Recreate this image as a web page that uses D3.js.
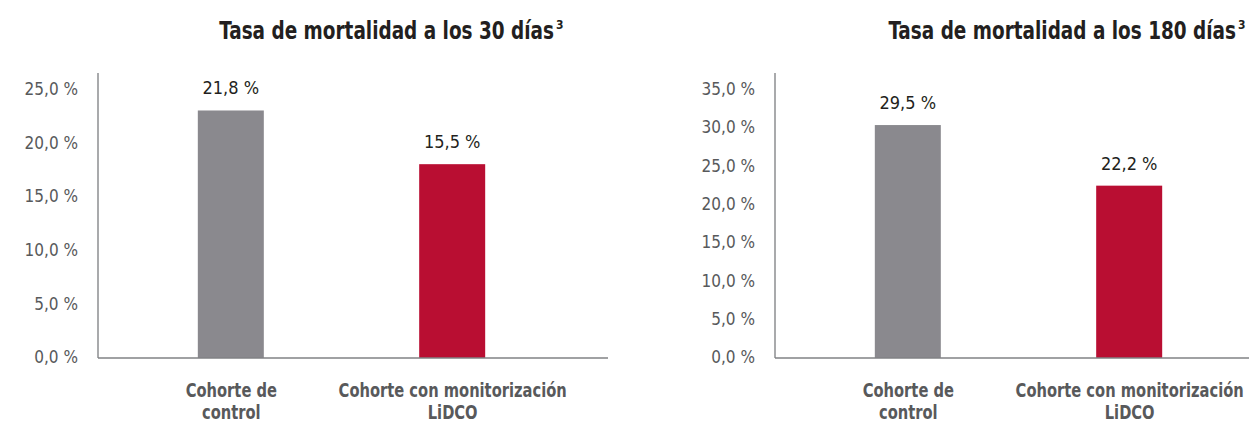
<!DOCTYPE html>
<html>
<head>
<meta charset="utf-8">
<script src="https://cdn.jsdelivr.net/npm/d3@7"></script>
<style>
  body { margin: 0; background: #fff; }
  svg text { font-family: 'Liberation Sans Narrow', 'DejaVu Sans Condensed', 'Roboto', sans-serif; }
</style>
</head>
<body>
<div id="chart"></div>
<script>
// datos
const categorias = ["Cohorte de|control", "Cohorte con monitorización|LiDCO"];
const colores = ["#8a898e", "#b90e32"];

const titulo30 = "Tasa de mortalidad a los 30 días";
const valores30 = [23.0, 18.0];           // altura de barra tal como se ve
const etiquetas30 = ["21,8 %", "15,5 %"];
const ticks30 = [0, 5, 10, 15, 20, 25];

const titulo180 = "Tasa de mortalidad a los 180 días";
const valores180 = [30.3, 22.4];
const etiquetas180 = ["29,5 %", "22,2 %"];
const ticks180 = [0, 5, 10, 15, 20, 25, 30, 35];

const svg = d3.select("#chart").append("svg")
  .attr("width", 1249)
  .attr("height", 423);

const fmt = d => d.toFixed(1).replace(".", ",") + " %";

function panel(cfg) {
  const g = svg.append("g");

  let x = d3.scalePoint().domain(categorias).range([cfg.left, cfg.left + 487]).padding(0.6);
  let y = d3.scaleLinear().domain([0, cfg.max]).range([357.5, 89]);

  // titulo (fuente condensada -> escala horizontal)
  const gt = g.append("g")
    .attr("transform", `translate(${cfg.titleEnd - 9},39) scale(0.82,1)`);
  gt.append("text")
    .attr("text-anchor", "end")
    .attr("font-size", 25)
    .attr("font-weight", "bold")
    .attr("fill", "#231f20")
    .text(cfg.titulo);
  g.append("text")
    .attr("x", cfg.titleEnd - 7)
    .attr("y", 29)
    .attr("font-size", 12)
    .attr("font-weight", "bold")
    .attr("fill", "#231f20")
    .text("3");

  // eje y
  const ay = g.append("g")
    .attr("transform", `translate(${cfg.left},0)`)
    .call(d3.axisLeft(y).tickValues(cfg.ticks).tickFormat(fmt).tickSize(0).tickPadding(20));
  ay.select(".domain").remove();
  ay.selectAll("text")
    .attr("font-size", 17)
    .attr("fill", "#58595b")
    .style("font-family", null);

  g.append("line")
    .attr("x1", cfg.left).attr("x2", cfg.left)
    .attr("y1", 73).attr("y2", 358)
    .attr("stroke", "#8c8e91").attr("stroke-width", 1.5);

  // barras
  g.selectAll("rect.bar")
    .data(cfg.valores)
    .enter().append("rect")
    .attr("class", "bar")
    .attr("x", (d, i) => x(categorias[i]) - 33)
    .attr("width", 66)
    .attr("y", d => y(d))
    .attr("height", d => y(0) - y(d) + 0.5)
    .attr("fill", (d, i) => colores[i]);

  // etiquetas de valor
  g.selectAll("text.val")
    .data(cfg.valores)
    .enter().append("text")
    .attr("class", "val")
    .attr("x", (d, i) => x(categorias[i]))
    .attr("y", d => y(d) - 16)
    .attr("text-anchor", "middle")
    .attr("font-size", 18)
    .attr("fill", "#231f20")
    .text((d, i) => cfg.etiquetas[i]);

  // eje x
  g.append("line")
    .attr("x1", cfg.left).attr("x2", cfg.axisEnd)
    .attr("y1", 358).attr("y2", 358)
    .attr("stroke", "#808285").attr("stroke-width", 1.5);

  const ax = g.append("g")
    .attr("transform", "translate(0,358)")
    .call(d3.axisBottom(x).tickSize(0).tickFormat(""));
  ax.select(".domain").remove();

  ax.selectAll(".tick").each(function (d) {
    const tick = d3.select(this);
    d.split("|").forEach((l, i) => {
      tick.append("g")
        .attr("transform", `translate(0,${39 + i * 22}) scale(0.86,1)`)
        .append("text")
        .attr("text-anchor", "middle")
        .attr("font-size", 19)
        .attr("font-weight", "bold")
        .attr("fill", "#58595b")
        .text(l);
    });
  });
}

panel({ left: 98, axisEnd: 608, max: 25, ticks: ticks30, valores: valores30, etiquetas: etiquetas30, titulo: titulo30, titleEnd: 563 });
panel({ left: 775, axisEnd: 1249, max: 35, ticks: ticks180, valores: valores180, etiquetas: etiquetas180, titulo: titulo180, titleEnd: 1245 });
</script>
</body>
</html>
